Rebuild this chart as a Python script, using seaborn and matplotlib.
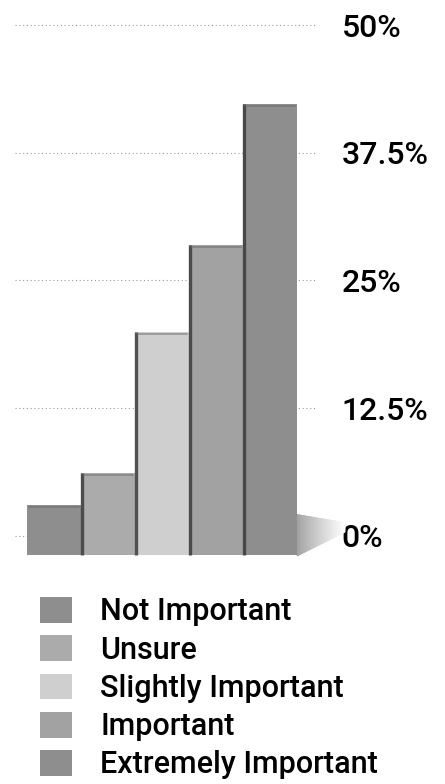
import numpy as np
import pandas as pd
import matplotlib
matplotlib.use("Agg")
import matplotlib.pyplot as plt
from matplotlib.colors import to_rgb
import seaborn as sns

# Survey responses: share of respondents per importance level (%)
categories = ["Not Important", "Unsure", "Slightly Important", "Important", "Extremely Important"]
shares = [3.0, 6.2, 20.0, 28.5, 42.3]
bar_colors = ["#8e8e8e", "#ababab", "#cfcfcf", "#a2a2a2", "#8e8e8e"]
tick_values = [0, 12.5, 25, 37.5, 50]
tick_labels = ["0%", "12.5%", "25%", "37.5%", "50%"]

FLOOR = 1.86          # visual depth of the bar bases below the 0% wall line
EDGE = "#3c3c3c"
FONT = ["Roboto", "DejaVu Sans"]

sns.set_style("white")
plt.rcParams["font.family"] = FONT

fig = plt.figure(figsize=(4.45, 7.84), dpi=100)
ax = fig.add_axes([15 / 445, 224 / 784, 300 / 445, 540 / 784])

df = pd.DataFrame({"level": categories, "share": shares})
sns.barplot(data=df, x="level", y="share", hue="level", order=categories,
            hue_order=categories, palette=bar_colors, width=1.0,
            saturation=1, legend=True, ax=ax, zorder=2, linewidth=0)

bars = [p for p in ax.patches if p.get_width() > 0]

# Bring each bar's front face down to the floor
for p in bars:
    h = p.get_height()
    p.set_y(-FLOOR)
    p.set_height(h + FLOOR)

# Dark separators on the left face of each bar after the first
for p in bars[1:]:
    x0 = p.get_x()
    ax.plot([x0 + 0.02, x0 + 0.02], [p.get_y(), p.get_y() + p.get_height()],
            color=EDGE, lw=2.4, zorder=3, solid_capstyle="butt", alpha=0.85)
# Slightly darker top rim
for p in bars:
    top = p.get_y() + p.get_height()
    ax.plot([p.get_x() + 0.04, p.get_x() + p.get_width() - 0.04], [top - 0.2, top - 0.2],
            color="#6a6a6a", lw=1.2, zorder=3, alpha=0.6)

# Floor shadow to the right of the last bar, faded in thin strips
last = bars[-1]
xr = last.get_x() + last.get_width()
span = 0.89
top0, top1 = 2.1, 1.3
bot0, bot1 = -1.96, 0.39
c0, c1 = np.array(to_rgb("#a0a0a0")), np.array(to_rgb("#ffffff"))
n = 60
for i in range(n):
    t0, t1 = i / n, (i + 1) / n
    xa, xb = xr + span * t0, xr + span * t1
    ya_top, yb_top = top0 + (top1 - top0) * t0, top0 + (top1 - top0) * t1
    ya_bot, yb_bot = bot0 + (bot1 - bot0) * t0, bot0 + (bot1 - bot0) * t1
    col = c0 + (c1 - c0) * ((t0 + t1) / 2) ** 0.9
    ax.fill([xa, xb, xb, xa], [ya_top, yb_top, yb_bot, ya_bot], facecolor=col,
            edgecolor=col, lw=0.6, zorder=1.5, clip_on=False)

ax.set_xlim(-0.722, 4.833)
ax.set_ylim(-2.35, 50.49)

# Right-hand percentage scale with dotted guides
ax.set_yticks(tick_values)
ax.set_yticklabels(tick_labels)
ax.yaxis.tick_right()
ax.tick_params(axis="y", length=0, pad=19, labelsize=23, labelcolor="black")
for t in ax.get_yticklabels():
    t.set_fontweight("medium")
ax.tick_params(axis="x", length=0, labelbottom=False)
ax.grid(axis="y", linestyle=(0, (1, 2.4)), color="#9a9a9a", linewidth=0.8)
ax.set_axisbelow(True)
ax.set_xlabel("")
ax.set_ylabel("")
for s in ax.spines.values():
    s.set_visible(False)

leg = ax.get_legend()
handles = leg.legend_handles
labels = [t.get_text() for t in leg.get_texts()]
leg.remove()
fig.legend(handles, labels, loc="upper left", bbox_to_anchor=(40 / 445, 1 - 597 / 784),
           frameon=False, prop={"family": FONT, "size": 22, "weight": "medium"},
           labelcolor="black", handlelength=1.05, handleheight=0.92,
           handletextpad=0.92, labelspacing=0.29, borderpad=0, borderaxespad=0)

fig.savefig("out.png", dpi=100, facecolor="white")
